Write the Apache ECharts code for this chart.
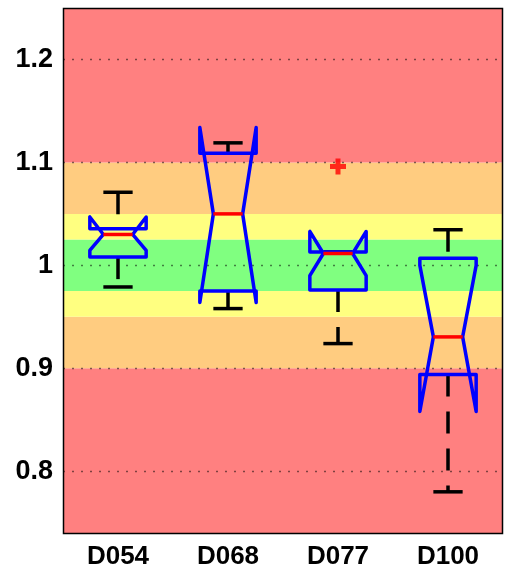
<!DOCTYPE html>
<html>
<head>
<meta charset="utf-8">
<script src="https://cdn.jsdelivr.net/npm/echarts@6/dist/echarts.min.js"></script>
<style>html,body{margin:0;padding:0;background:#fff}#c{width:506px;height:572px}</style>
</head>
<body>
<div id="c"></div>
<script>
const categories = ['D054', 'D068', 'D077', 'D100'];
const whiskerLow  = [0.979, 0.958, 0.924, 0.780];
const q1          = [1.008, 0.975, 0.976, 0.894];
const notchLow    = [1.0145, 0.964, 0.990, 0.858];
const median      = [1.030, 1.050, 1.0115, 0.9305];
const notchHigh   = [1.047, 1.134, 1.033, 1.000];
const q3          = [1.0355, 1.109, 1.013, 1.007];
const whiskerHigh = [1.071, 1.119, 1.013, 1.0346];
const outlierCategory = ['D077'];
const outlierValue = [1.096];
const bandLow  = [0.74, 0.90, 0.95, 0.975, 1.025, 1.05, 1.10];
const bandHigh = [0.90, 0.95, 0.975, 1.025, 1.05, 1.10, 1.25];
const bandColors = ['#FF8080', '#FFCC80', '#FFFF80', '#80FF80', '#FFFF80', '#FFCC80', '#FF8080'];
const yTicks = [0.8, 0.9, 1.0, 1.1, 1.2];
const yTickLabels = ['0.8', '0.9', '1', '1.1', '1.2'];
const yMin = 0.74, yMax = 1.25;

const boxData = categories.map((c, i) => [i, whiskerLow[i], q1[i], notchLow[i], median[i], notchHigh[i], q3[i], whiskerHigh[i]]);

const chart = echarts.init(document.getElementById('c'), null, {renderer: 'canvas'});
chart.setOption({
  animation: false,
  grid: {left: 63, right: 3, top: 8, bottom: 39},
  xAxis: {
    type: 'category', data: categories,
    axisLine: {show: false}, axisTick: {show: false}, splitLine: {show: false},
    axisLabel: {fontSize: 26, fontWeight: 'bold', fontFamily: 'Liberation Sans', color: '#000', margin: 11}
  },
  yAxis: {
    type: 'value', min: yMin, max: yMax,
    axisLine: {show: false}, axisTick: {show: false}, splitLine: {show: false},
    axisLabel: {
      customValues: yTicks,
      fontSize: 27, fontWeight: 'bold', fontFamily: 'Liberation Sans', color: '#000', margin: 10,
      formatter: function (v) { const k = yTicks.findIndex(t => Math.abs(t - v) < 1e-9); return k >= 0 ? yTickLabels[k] : ''; }
    }
  },
  series: [
    {
      type: 'custom', z: 1, silent: true,
      data: bandLow.map((lo, i) => [0, lo, bandHigh[i]]),
      encode: {x: 0, y: [1, 2]},
      renderItem: function (params, api) {
        const cs = params.coordSys;
        const yTop = api.coord([0, api.value(2)])[1];
        const yBot = api.coord([0, api.value(1)])[1];
        return {type: 'rect', shape: {x: cs.x, y: yTop, width: cs.width, height: yBot - yTop},
          style: {fill: bandColors[params.dataIndex]}};
      }
    },
    {
      type: 'custom', z: 2, silent: true,
      data: yTicks.map(v => [0, v]),
      encode: {x: 0, y: 1},
      renderItem: function (params, api) {
        const cs = params.coordSys;
        const y = Math.round(api.coord([0, api.value(1)])[1]) + 0.5;
        return {type: 'line', shape: {x1: cs.x, y1: y, x2: cs.x + cs.width, y2: y},
          style: {stroke: 'rgba(0,0,0,0.5)', lineWidth: 1.5, lineDash: [2, 7]}};
      }
    },
    {
      type: 'custom', z: 3, silent: true,
      data: boxData,
      encode: {x: 0, y: [1, 7]},
      renderItem: function (params, api) {
        const i = api.value(0);
        const band = api.size([1, 0])[0];
        const half = band * 0.256;
        const mh = half * 0.52;
        const x = api.coord([i, api.value(4)])[0];
        const Y = v => api.coord([i, v])[1];
        const wl = Y(api.value(1)), a = Y(api.value(2)), nl = Y(api.value(3)), md = Y(api.value(4)),
              nh = Y(api.value(5)), b = Y(api.value(6)), wh = Y(api.value(7));
        const L = x - half, R = x + half;
        const dash = {stroke: '#000', lineWidth: 3.5, lineDash: [22, 15]};
        const solid = {stroke: '#000', lineWidth: 3.5};
        return {type: 'group', children: [
          {type: 'line', shape: {x1: x, y1: wh, x2: x, y2: b}, style: dash},
          {type: 'line', shape: {x1: x, y1: a, x2: x, y2: wl}, style: dash},
          {type: 'line', shape: {x1: x - mh, y1: wh, x2: x + mh, y2: wh}, style: solid},
          {type: 'line', shape: {x1: x - mh, y1: wl, x2: x + mh, y2: wl}, style: solid},
          {type: 'polygon', shape: {points: [[L, a], [L, nl], [x - mh, md], [L, nh], [L, b], [R, b], [R, nh], [x + mh, md], [R, nl], [R, a]]},
            style: {fill: 'none', stroke: '#0000FF', lineWidth: 3.5, lineJoin: 'round'}},
          {type: 'line', shape: {x1: x - mh, y1: md, x2: x + mh, y2: md}, style: {stroke: '#FF0000', lineWidth: 3.5}}
        ]};
      }
    },
    {
      type: 'scatter', z: 4, silent: true,
      data: outlierCategory.map((c, i) => [c, outlierValue[i]]),
      symbol: 'path://M5.5,0H10.5V5.5H16V10.5H10.5V16H5.5V10.5H0V5.5H5.5Z',
      symbolSize: 16,
      itemStyle: {color: '#FF0000'}
    },
    {
      type: 'custom', z: 10, silent: true,
      data: [[0, yMin]],
      encode: {x: 0, y: 1},
      renderItem: function (params, api) {
        const cs = params.coordSys;
        return {type: 'rect', shape: {x: cs.x + 0.5, y: cs.y + 0.5, width: cs.width - 1, height: cs.height},
          style: {fill: 'none', stroke: '#000', lineWidth: 1.5}};
      }
    }
  ]
});
</script>
</body>
</html>
